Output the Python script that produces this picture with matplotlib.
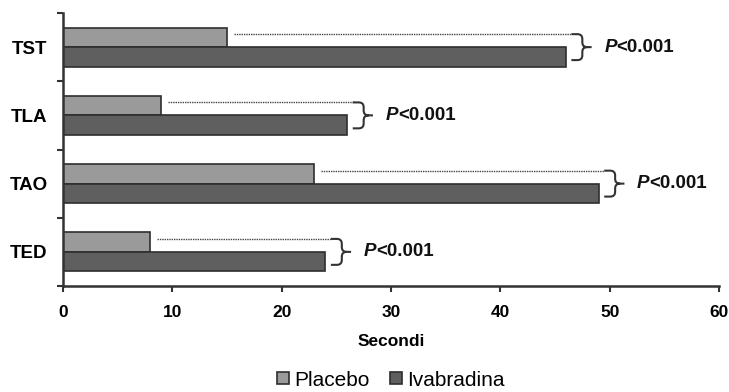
import matplotlib.pyplot as plt
from matplotlib.path import Path
from matplotlib.patches import PathPatch, Patch

plt.rcParams['font.family'] = ['Liberation Sans', 'DejaVu Sans']

# dati
categorie = ['TED', 'TAO', 'TLA', 'TST']   # dal basso verso l'alto
placebo = [8, 23, 9, 15]
ivabradina = [24, 49, 26, 46]
p_testo = ['<0.001', '<0.001', '<0.001', '<0.001']
xticks = [0, 10, 20, 30, 40, 50, 60]

col_placebo = '#9a9a9a'
col_ivab = '#5f5f5f'
col_bordo = '#2e2e2e'

fig = plt.figure(figsize=(7.29, 3.92), dpi=100)
ax = fig.add_axes([63/729, 1-286/392, (719-63)/729, (286-13)/392])

h = 0.286
y = list(range(len(categorie)))
ax.barh([v + h/2 for v in y], placebo, height=h, color=col_placebo,
        edgecolor=col_bordo, linewidth=1.2, label='Placebo')
ax.barh([v - h/2 for v in y], ivabradina, height=h, color=col_ivab,
        edgecolor=col_bordo, linewidth=1.2, label='Ivabradina')

# linee tratteggiate, parentesi graffe e p-value
for i in range(len(categorie)):
    c = y[i]
    yt = c + 0.19
    yb = c - 0.19
    xb = ivabradina[i] + 0.5
    xv = xb + 1.0
    ax.plot([placebo[i] + 0.6, xb], [yt, yt], color='#444444', lw=1.0,
            linestyle=(0, (1, 0.7)))
    r = 0.07
    verts = [(xb, yt), (xv - 0.45, yt), (xv, yt), (xv, yt - r),
             (xv, c + r), (xv, c), (xv + 0.45, c), (xv + 0.85, c),
             (xv + 0.45, c), (xv, c), (xv, c - r),
             (xv, yb + r), (xv, yb), (xv - 0.45, yb), (xb, yb)]
    codes = [Path.MOVETO, Path.LINETO, Path.CURVE3, Path.CURVE3,
             Path.LINETO, Path.CURVE3, Path.CURVE3, Path.LINETO,
             Path.MOVETO, Path.CURVE3, Path.CURVE3,
             Path.LINETO, Path.CURVE3, Path.CURVE3, Path.LINETO]
    ax.add_patch(PathPatch(Path(verts, codes), facecolor='none',
                           edgecolor='#333333', lw=1.5))
    t = ax.text(xv + 2.0, c, 'P', fontsize=13.5, fontweight='bold',
                fontstyle='italic', va='center', ha='left', color='#111111')
    ax.annotate(p_testo[i], xy=(1, 0), xycoords=t, va='bottom', ha='left',
                fontsize=13.5, fontweight='bold', color='#111111')

ax.set_xlim(0, 60)
ax.set_ylim(-0.5, len(categorie) - 0.5)
ax.set_xticks(xticks)
ax.set_xticklabels([str(v) for v in xticks], fontsize=12.5, fontweight='bold')
ax.set_yticks(y)
ax.set_yticklabels(categorie, fontsize=13.5, fontweight='bold')
ax.set_yticks([v - 0.5 for v in range(len(categorie) + 1)], minor=True)

ax.tick_params(axis='y', which='major', length=0, pad=11)
ax.tick_params(axis='y', which='minor', length=4, width=1.5, color='#333333')
ax.tick_params(axis='x', which='major', length=4, width=1.5, color='#333333', pad=10)

for s in ['top', 'right']:
    ax.spines[s].set_visible(False)
for s in ['left', 'bottom']:
    ax.spines[s].set_linewidth(1.8)
    ax.spines[s].set_color('#333333')

ax.set_xlabel('Secondi', fontsize=12.5, fontweight='bold', labelpad=10)

handles = [Patch(facecolor=col_placebo, edgecolor=col_bordo, lw=1.2, label='Placebo'),
           Patch(facecolor=col_ivab, edgecolor=col_bordo, lw=1.2, label='Ivabradina')]
fig.legend(handles=handles, loc='center', bbox_to_anchor=(391/729, 1-380/392),
           ncol=2, frameon=False, fontsize=15, handlelength=0.55,
           handleheight=0.55, handletextpad=0.25, columnspacing=1.0,
           prop={'size': 15, 'weight': 'medium'})

plt.savefig('out.png', dpi=100)
